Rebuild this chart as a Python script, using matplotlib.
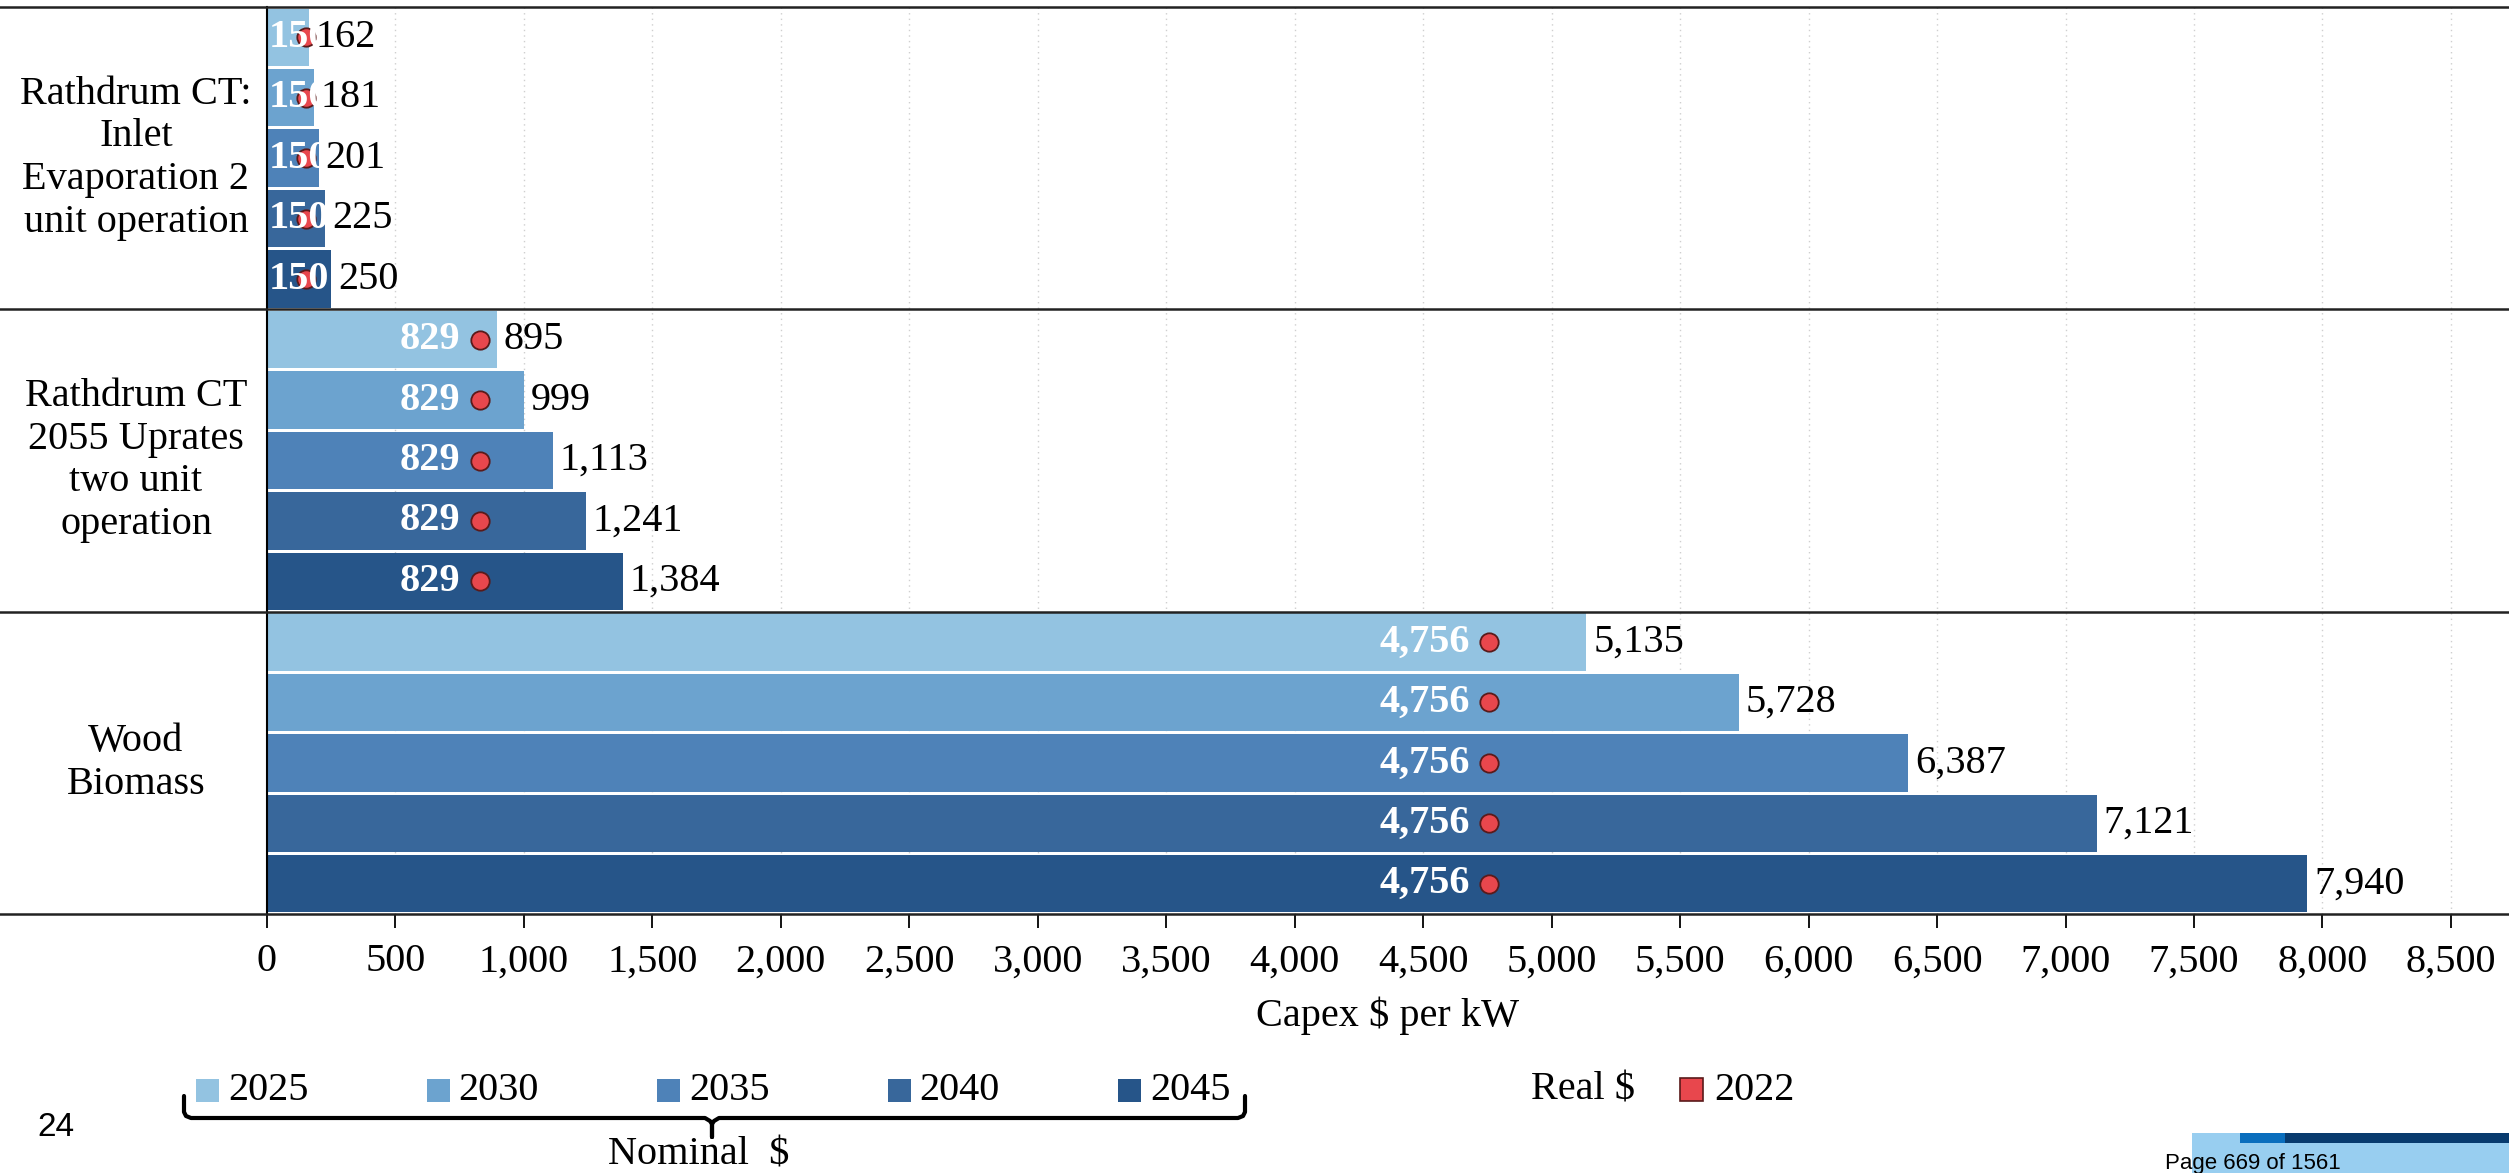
import matplotlib
matplotlib.use("Agg")
import matplotlib.pyplot as plt
from matplotlib.patches import Rectangle
from matplotlib.lines import Line2D
from matplotlib.ticker import FuncFormatter

# ---------------- data ----------------
groups = ["Rathdrum CT:\nInlet\nEvaporation 2\nunit operation",
          "Rathdrum CT\n2055 Uprates\ntwo unit\noperation",
          "Wood\nBiomass"]
years = ["2025", "2030", "2035", "2040", "2045"]
inlet_nominal = [162, 181, 201, 225, 250]
uprate_nominal = [895, 999, 1113, 1241, 1384]
biomass_nominal = [5135, 5728, 6387, 7121, 7940]
real_2022 = [150, 829, 4756]
real_label = "2022"
xticks = list(range(0, 8501, 500))

# ---------------- style ----------------
W, H = 2509, 1173
plt.rcParams['font.family'] = ['Liberation Serif', 'DejaVu Serif']
FS = 29
year_colors = ["#93C3E1", "#6CA3CF", "#4E82B8", "#38679B", "#265589"]
red = "#E8474D"
red_edge = "#5A1A1A"

def fx(x):
    return x / W

def fy(y):
    return 1 - y / H

fig = plt.figure(figsize=(W / 100, H / 100), dpi=100)
ax_left, ax_top, ax_bottom = 267, 7, 914
ax = fig.add_axes([fx(ax_left), fy(ax_bottom), 1 - fx(ax_left), (ax_bottom - ax_top) / H])
blend = matplotlib.transforms.blended_transform_factory(fig.transFigure, ax.transData)

nominal = [inlet_nominal, uprate_nominal, biomass_nominal]
n = len(years)
for g, (vals, real) in enumerate(zip(nominal, real_2022)):
    ys = [g * n + i for i in range(n)]
    bars = ax.barh(ys, vals, height=0.95, color=year_colors, zorder=2)
    for bar, y, v in zip(bars, ys, vals):
        ax.annotate(f"{v:,}", (v, y), xytext=(5, 0), textcoords='offset points',
                    ha='left', va='center', fontsize=FS, color='black', zorder=5)
        ax.scatter([real], [y], s=175, color=red, edgecolor=red_edge, linewidth=1.3, zorder=3)
        if real < 400:
            t = ax.annotate(f"{real:,}", (0, y), xytext=(1.5, 0), textcoords='offset points',
                            ha='left', va='center', fontsize=FS, fontweight='bold',
                            color='white', zorder=4)
        else:
            t = ax.annotate(f"{real:,}", (real, y), xytext=(-14, 0), textcoords='offset points',
                            ha='right', va='center', fontsize=FS, fontweight='bold',
                            color='white', zorder=4)
    fig.text(fx(136), g * n + (n - 1) / 2, groups[g], ha='center', va='center',
             fontsize=FS, linespacing=1.2, transform=blend)

ax.set_ylim(len(groups) * n - 0.5, -0.5)
ax.set_xlim(0, 8726)
ax.set_yticks([])
ax.set_xticks(xticks)
ax.xaxis.set_major_formatter(FuncFormatter(lambda v, p: f"{int(v):,}"))
ax.tick_params(axis='x', direction='out', length=10, width=1.3, pad=11, labelsize=FS, colors='black')
ax.set_xlabel("Capex $ per kW", fontsize=FS, labelpad=12)
ax.grid(axis='x', linestyle=(0, (1, 3)), color='#cfcfcf', linewidth=1.0, zorder=0)
ax.set_axisbelow(True)
for s in ['top', 'right', 'bottom']:
    ax.spines[s].set_visible(False)
ax.spines['left'].set_linewidth(1.5)
ax.spines['left'].set_color('black')

# horizontal separators spanning whole width
ext = -ax_left / (W - ax_left)
for yb in [-0.5, 4.5, 9.5, 14.5]:
    ax.axhline(yb, xmin=ext, xmax=1, color='#222222', linewidth=1.8, clip_on=False, zorder=6)

# ---------------- legend ----------------
sq = 23
for i, (yr, col) in enumerate(zip(years, year_colors)):
    x0 = 196 + i * 230.5
    fig.patches.append(Rectangle((fx(x0), fy(1102)), sq / W, sq / H, transform=fig.transFigure,
                                 facecolor=col, edgecolor='none'))
    fig.text(fx(x0 + sq + 9), fy(1090), yr, ha='left', va='center', fontsize=FS)

fig.text(fx(1531), fy(1090), "Real $", ha='left', va='center', fontsize=FS)
fig.patches.append(Rectangle((fx(1680), fy(1101)), sq / W, sq / H, transform=fig.transFigure,
                             facecolor=red, edgecolor=red_edge, linewidth=1.2))
fig.text(fx(1714), fy(1090), real_label, ha='left', va='center', fontsize=FS)

# brace under nominal legend
bx = [184, 184, 186, 191, 705, 710, 712, 712, 712, 714, 719, 1238, 1243, 1245, 1245]
by = [1096, 1112, 1116, 1118, 1118, 1121, 1124, 1137, 1124, 1121, 1118, 1118, 1116, 1112, 1096]
fig.lines.append(Line2D([fx(v) for v in bx], [fy(v) for v in by], transform=fig.transFigure,
                        color='black', linewidth=3, solid_joinstyle='round', solid_capstyle='round'))
fig.text(fx(699), fy(1155), "Nominal  $", ha='center', va='center', fontsize=FS)

# page decorations
fig.text(fx(56), fy(1127), "24", ha='center', va='center', fontsize=24,
         family=['Liberation Sans', 'DejaVu Sans'])
fig.patches.append(Rectangle((fx(2192), 0), 1 - fx(2192), (H - 1133) / H, transform=fig.transFigure,
                             facecolor='#98CEF0', edgecolor='none', zorder=0))
fig.patches.append(Rectangle((fx(2240), fy(1143)), fx(2285) - fx(2240), 10 / H, transform=fig.transFigure,
                             facecolor='#0A6EBD', edgecolor='none', zorder=1))
fig.patches.append(Rectangle((fx(2285), fy(1143)), 1 - fx(2285), 10 / H, transform=fig.transFigure,
                             facecolor='#083B6E', edgecolor='none', zorder=1))
fig.text(fx(2165), fy(1163), "Page 669 of 1561", ha='left', va='center', fontsize=16,
         family=['Liberation Sans', 'DejaVu Sans'], zorder=3)

fig.savefig("out.png", dpi=100)
